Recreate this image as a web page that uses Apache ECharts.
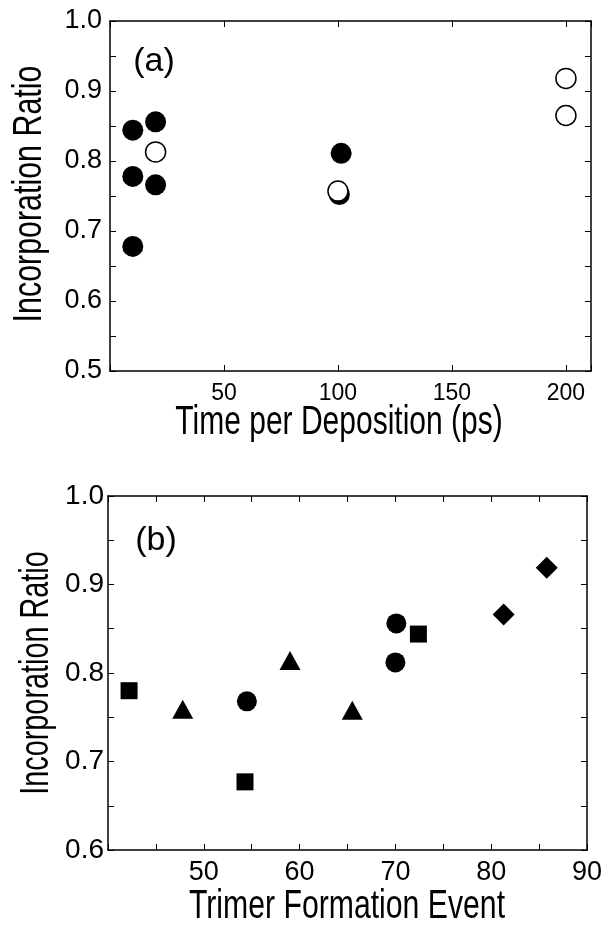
<!DOCTYPE html>
<html>
<head>
<meta charset="utf-8">
<script src="https://cdn.jsdelivr.net/npm/echarts@6/dist/echarts.min.js"></script>
<style>
html,body{margin:0;padding:0;background:#fff;}
#chart{width:608px;height:926px;}
</style>
</head>
<body>
<div id="chart"></div>
<script>
// Panel (a): Incorporation ratio vs time per deposition
const filledTime  = [10, 10, 10, 20, 20, 101.4, 100.6];
const filledRatio = [0.844, 0.778, 0.678, 0.856, 0.766, 0.811, 0.752];
const openTime    = [20, 100, 200, 200];
const openRatio   = [0.813, 0.757, 0.918, 0.865];
const timeTicks   = [50, 100, 150, 200];

// Panel (b): Incorporation ratio vs trimer formation event
const squareEvent   = [42.2, 54.3, 72.4];
const squareRatio   = [0.780, 0.677, 0.844];
const triangleEvent = [47.8, 59.0, 65.5];
const triangleRatio = [0.759, 0.814, 0.758];
const circleEvent   = [54.5, 70.1, 70.0];
const circleRatio   = [0.768, 0.856, 0.812];
const diamondEvent  = [81.3, 85.8];
const diamondRatio  = [0.866, 0.919];
const eventTicks    = [50, 60, 70, 80, 90];

// Titles and panel tags
const xTitleA = 'Time per Deposition (ps)';
const xTitleB = 'Trimer Formation Event';
const yTitle  = 'Incorporation Ratio';
const tagA = '(a)';
const tagB = '(b)';

const REG = "'Liberation Sans', Arial, Helvetica, sans-serif";
const pairs = (xs, ys) => xs.map((x, i) => [x, ys[i]]);

const line = {show: true, onZero: false, lineStyle: {color: '#000', width: 1.5}};
const tick = {show: true, inside: true, length: 6, lineStyle: {color: '#000', width: 1}};
const minor = {show: true, splitNumber: 2, length: 6, lineStyle: {color: '#000', width: 1}};

function boxAxis(base, extra) { return Object.assign({type: 'value', splitLine: {show: false}, axisLine: line}, base, extra); }

function textEl(text, x, y, size, sx, rot) {
  return {type: 'text', x: x, y: y, rotation: rot || 0, scaleX: sx, scaleY: 1, silent: true,
    style: {text: text, font: size + 'px ' + REG, fill: '#000',
      align: 'center', verticalAlign: 'middle', textAlign: 'center', textVerticalAlign: 'middle'}};
}

const option = {
  animation: false,
  backgroundColor: '#fff',
  grid: [
    {left: 110, top: 21, width: 481, height: 350},
    {left: 108, top: 496, width: 479, height: 354}
  ],
  graphic: [
    textEl(tagA, 154, 62, 34, 1),
    textEl(tagB, 156, 541, 34, 1),
    textEl(xTitleA, 339, 423, 40, 0.75),
    textEl(xTitleB, 347, 907, 40, 0.755),
    textEl(yTitle, 30, 194, 40, 0.76, Math.PI / 2),
    textEl(yTitle, 37, 673, 40, 0.72, Math.PI / 2)
  ],
  xAxis: [
    boxAxis({gridIndex: 0, min: 0, max: 211, interval: 50, position: 'bottom'}, {
      axisTick: tick,
      axisLabel: {fontFamily: REG, fontSize: 23, color: '#000', margin: 11,
        formatter: v => (timeTicks.indexOf(Math.round(v)) >= 0 && Math.abs(v - Math.round(v)) < 1e-6) ? String(Math.round(v)) : ''}
    }),
    boxAxis({gridIndex: 0, min: 0, max: 211, interval: 50, position: 'top'}, {axisTick: tick, axisLabel: {show: false}}),
    boxAxis({gridIndex: 1, min: 40, max: 90, interval: 10, position: 'bottom'}, {
      axisTick: tick, minorTick: minor,
      axisLabel: {fontFamily: REG, fontSize: 27, color: '#000', margin: 9,
        formatter: v => (eventTicks.indexOf(Math.round(v)) >= 0) ? String(Math.round(v)) : ''}
    }),
    boxAxis({gridIndex: 1, min: 40, max: 90, interval: 10, position: 'top'}, {axisTick: tick, minorTick: minor, axisLabel: {show: false}})
  ],
  yAxis: [
    boxAxis({gridIndex: 0, min: 0.5, max: 1.0, interval: 0.1, position: 'left'}, {
      axisTick: tick, minorTick: minor,
      axisLabel: {fontFamily: REG, fontSize: 27, color: '#000', margin: 8, formatter: v => v.toFixed(1)}
    }),
    boxAxis({gridIndex: 0, min: 0.5, max: 1.0, interval: 0.1, position: 'right'}, {axisTick: tick, minorTick: minor, axisLabel: {show: false}}),
    boxAxis({gridIndex: 1, min: 0.6, max: 1.0, interval: 0.1, position: 'left'}, {
      axisTick: tick, minorTick: minor,
      axisLabel: {fontFamily: REG, fontSize: 28, color: '#000', margin: 4, formatter: v => v.toFixed(1)}
    }),
    boxAxis({gridIndex: 1, min: 0.6, max: 1.0, interval: 0.1, position: 'right'}, {axisTick: tick, minorTick: minor, axisLabel: {show: false}})
  ],
  series: [
    {name: 'Filled', type: 'scatter', xAxisIndex: 0, yAxisIndex: 0, symbol: 'circle', symbolSize: 21,
      itemStyle: {color: '#000', opacity: 1}, data: pairs(filledTime, filledRatio)},
    {name: 'Open', type: 'scatter', xAxisIndex: 0, yAxisIndex: 0, symbol: 'circle', symbolSize: 20,
      itemStyle: {color: '#fff', borderColor: '#000', borderWidth: 1.5, opacity: 1}, data: pairs(openTime, openRatio)},
    {name: 'Squares', type: 'scatter', xAxisIndex: 2, yAxisIndex: 2, symbol: 'rect', symbolSize: 17,
      itemStyle: {color: '#000', opacity: 1}, data: pairs(squareEvent, squareRatio)},
    {name: 'Triangles', type: 'scatter', xAxisIndex: 2, yAxisIndex: 2, symbol: 'triangle', symbolSize: [21, 19],
      itemStyle: {color: '#000', opacity: 1}, data: pairs(triangleEvent, triangleRatio)},
    {name: 'Circles', type: 'scatter', xAxisIndex: 2, yAxisIndex: 2, symbol: 'circle', symbolSize: 20,
      itemStyle: {color: '#000', opacity: 1}, data: pairs(circleEvent, circleRatio)},
    {name: 'Diamonds', type: 'scatter', xAxisIndex: 2, yAxisIndex: 2, symbol: 'diamond', symbolSize: 22,
      itemStyle: {color: '#000', opacity: 1}, data: pairs(diamondEvent, diamondRatio)}
  ]
};

const chart = echarts.init(document.getElementById('chart'), null, {renderer: 'canvas'});
chart.setOption(option);
</script>
</body>
</html>
